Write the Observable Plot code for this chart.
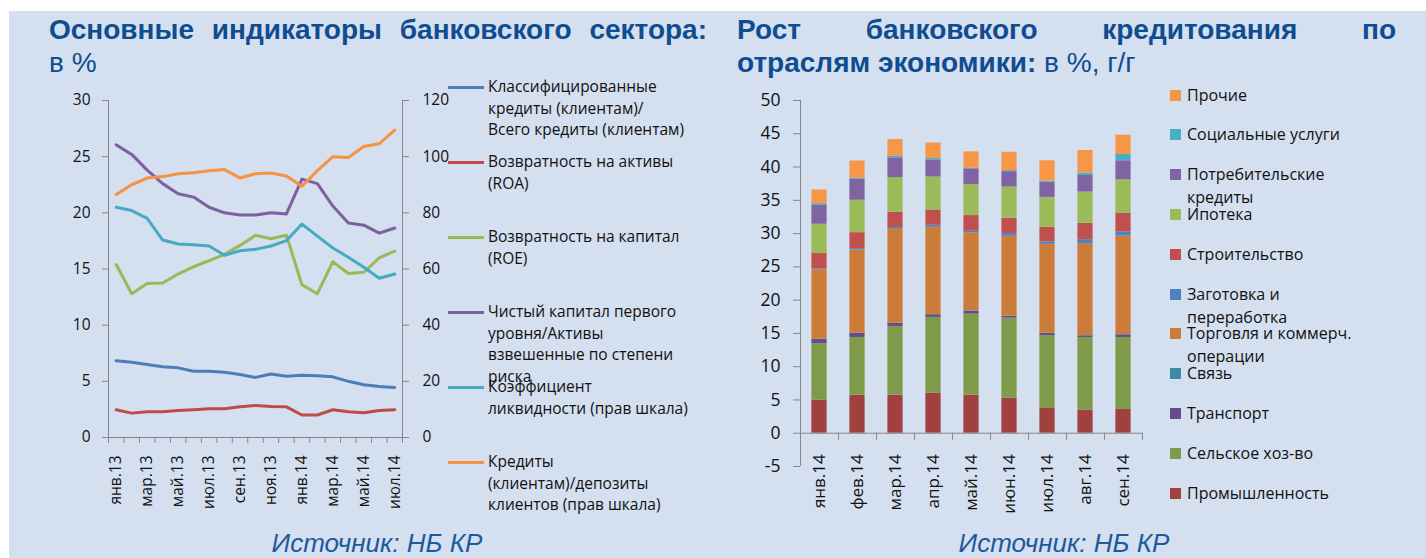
<!DOCTYPE html>
<html><head><meta charset="utf-8">
<script src="https://cdn.jsdelivr.net/npm/d3@7"></script>
<script src="https://cdn.jsdelivr.net/npm/@observablehq/plot@0.6"></script>
<style>
html,body{margin:0;padding:0;background:#fff;}
#page{position:relative;width:1426px;height:558px;overflow:hidden;background:#fff;}
#panel{position:absolute;left:9px;top:11px;width:1417px;height:547px;background:#D4DFEF;}
.abs{position:absolute;}
.title{font-family:"Liberation Sans",Arial,sans-serif;font-size:28px;line-height:33px;color:#0E4D8F;white-space:nowrap;}
.just{text-align:justify;text-align-last:justify;white-space:normal;}
.cap{font-family:"Liberation Sans",Arial,sans-serif;font-style:italic;font-size:26px;line-height:25px;color:#1C5A9C;width:400px;text-align:center;}
.lg{font-family:"Open Sans",sans-serif;color:#111;white-space:pre-line;}
.chart{position:absolute;top:0;}
</style></head>
<body><div id="page"><div id="panel"></div></div>
<script>
// ---------- Left chart data ----------
const months13 = ["янв.13","фев.13","мар.13","апр.13","май.13","июн.13","июл.13","авг.13","сен.13","окт.13","ноя.13","дек.13","янв.14","фев.14","мар.14","апр.14","май.14","июн.14","июл.14"];
const classified = [6.83,6.7,6.5,6.3,6.2,5.9,5.9,5.8,5.6,5.35,5.65,5.45,5.55,5.5,5.4,5.0,4.7,4.55,4.45];
const roa = [2.47,2.17,2.3,2.3,2.4,2.47,2.55,2.55,2.73,2.85,2.76,2.73,2.0,2.0,2.47,2.3,2.2,2.4,2.47];
const roe = [15.4,12.8,13.7,13.75,14.55,15.2,15.75,16.3,17.1,18.0,17.7,18.0,13.6,12.8,15.65,14.6,14.7,16.0,16.6];
const tier1 = [26.05,25.2,23.8,22.6,21.7,21.4,20.5,20.0,19.8,19.8,20.0,19.9,23.0,22.6,20.6,19.1,18.9,18.2,18.65];
const liquidity = [82,80.8,78,70.3,68.9,68.6,68.2,64.9,66.5,67,68.2,70.1,76,71.7,67.5,64.2,60.6,56.7,58.2];      // right axis
const loansDeposits = [86.5,90,92.4,92.9,93.9,94.3,95,95.4,92.4,93.9,94.2,93.1,89.5,95,100,99.7,103.6,104.6,109.5]; // right axis
const leftSeriesNames = [
  "Классифицированные\nкредиты (клиентам)/\nВсего кредиты (клиентам)",
  "Возвратность на активы\n(ROA)",
  "Возвратность на капитал\n(ROE)",
  "Чистый капитал первого\nуровня/Активы\nвзвешенные по степени\nриска",
  "Коэффициент\nликвидности (прав шкала)",
  "Кредиты\n(клиентам)/депозиты\nклиентов (прав шкала)"
];
const leftSeriesValues = [classified, roa, roe, tier1, liquidity, loansDeposits];
const leftSeriesRightAxis = [false, false, false, false, true, true];
const leftColors = ["#4A7EBB","#BE4B48","#98B954","#7D60A0","#46AAC5","#F69240"];
const leftTicks = [0,5,10,15,20,25,30];
const rightAxisFactor = 4; // 0..30 left  <->  0..120 right

// ---------- Right chart data ----------
const months14 = ["янв.14","фев.14","мар.14","апр.14","май.14","июн.14","июл.14","авг.14","сен.14"];
const sectorNames = ["Промышленность","Сельское хоз-во","Транспорт","Связь","Торговля и коммерч.\nоперации","Заготовка и\nпереработка","Строительство","Ипотека","Потребительские\nкредиты","Социальные услуги","Прочие"];
const industry      = [4.96,5.72,5.72,6.02,5.72,5.27,3.71,3.46,3.56];
const agriculture   = [8.48,8.67,10.33,11.38,12.18,12.03,10.98,10.93,10.83];
const transport     = [0.65,0.6,0.45,0.4,0.45,0.25,0.3,0.25,0.4];
const communication = [0.06,0.05,0.05,0.05,0.05,0.05,0.05,0.05,0.05];
const trade         = [10.42,12.5,14.1,13.1,11.7,12.0,13.35,13.8,14.8];
const procurement   = [0.13,0.2,0.26,0.3,0.26,0.4,0.35,0.6,0.6];
const construction  = [2.3,2.4,2.3,2.3,2.35,2.3,2.2,2.45,2.85];
const mortgage      = [4.4,4.87,5.2,4.95,4.65,4.7,4.5,4.7,5.0];
const consumer      = [2.85,3.15,2.97,2.57,2.37,2.3,2.3,2.5,2.85];
const social        = [0.25,0.15,0.25,0.23,0.1,0.17,0.15,0.35,0.95];
const other         = [2.06,2.6,2.5,2.3,2.45,2.75,3.05,3.4,2.9];
const sectorValues = [industry, agriculture, transport, communication, trade, procurement, construction, mortgage, consumer, social, other];
const sectorColors = ["#A0403F","#7F9A48","#664D8A","#3C8DA3","#CD7B38","#4F81BD","#C0504D","#9BBB59","#8064A2","#4BACC6","#F79646"];
const barTicks = [-5,0,5,10,15,20,25,30,35,40,45,50];

const page = document.getElementById("page");
const AXIS = "#868686";

// ---------- Left chart ----------
const n1 = months13.length;
const lineData = [];
leftSeriesValues.forEach((vals, s) => vals.forEach((v, i) => lineData.push({i, s, y: leftSeriesRightAxis[s] ? v / rightAxisFactor : v})));
const bounds1 = d3.range(n1 + 1).map(k => k - 0.5);
const labelIdx1 = d3.range(0, n1, 2);

const left = Plot.plot({
  width: 720, height: 558,
  marginLeft: 108, marginRight: 318, marginTop: 100, marginBottom: 121,
  style: {background: "transparent", fontFamily: "Open Sans", color: "#000", overflow: "visible"},
  x: {type: "linear", domain: [-0.5, n1 - 0.5], axis: null},
  y: {domain: [0, 30]},
  marks: [
    Plot.axisY({ticks: leftTicks, tickFormat: d => String(d), tickSize: 6, tickPadding: 12, stroke: AXIS, fill: "#111", fontSize: 15.5, label: null}),
    Plot.axisY({anchor: "right", ticks: leftTicks, tickFormat: d => String(d * rightAxisFactor), tickSize: 6, tickPadding: 14, stroke: AXIS, fill: "#111", fontSize: 15.5, label: null}),
    Plot.ruleX([bounds1[0], bounds1[n1]], {stroke: AXIS}),
    Plot.ruleY([0], {stroke: AXIS}),
    Plot.ruleX(bounds1, {x: d => d, y1: () => 0, y2: () => 0, insetBottom: -6, stroke: AXIS}),
    Plot.text(labelIdx1, {x: d => d, y: () => 0, text: d => months13[d], rotate: -90, textAnchor: "end", dy: 18, fontSize: 15.5, fill: "#111"}),
    ...leftSeriesValues.map((_, s) => Plot.line(lineData.filter(d => d.s === s), {x: "i", y: "y", stroke: leftColors[s], strokeWidth: 3, strokeLinejoin: "round", strokeLinecap: "round"}))
  ]
});
left.classList.add("chart"); left.style.left = "0px";
page.appendChild(left);

// ---------- Right chart ----------
const n2 = months14.length;
const rects = [];
for (let i = 0; i < n2; i++) {
  let acc = 0;
  sectorValues.forEach((vals, s) => { const y1 = acc; acc += vals[i]; rects.push({i, s, y1, y2: acc}); });
}
const bounds2 = d3.range(n2 + 1).map(k => k - 0.5);
const halfBar = 0.2;
const right = Plot.plot({
  width: 706, height: 558,
  marginLeft: 80, marginRight: 284, marginTop: 100, marginBottom: 92,
  style: {background: "transparent", fontFamily: "Open Sans", color: "#000", overflow: "visible"},
  x: {type: "linear", domain: [-0.5, n2 - 0.5], axis: null},
  y: {domain: [-5, 50]},
  marks: [
    Plot.axisY({ticks: barTicks, tickFormat: d => String(d), tickSize: 7, tickPadding: 13, stroke: AXIS, fill: "#111", fontSize: 17.5, label: null}),
    Plot.rect(rects, {x1: d => d.i - halfBar, x2: d => d.i + halfBar, y1: "y1", y2: "y2", fill: d => sectorColors[d.s]}),
    Plot.ruleX([bounds2[0]], {stroke: AXIS}),
    Plot.ruleY([0], {stroke: AXIS}),
    Plot.ruleX(bounds2, {x: d => d, y1: () => 0, y2: () => 0, insetBottom: -7, stroke: AXIS}),
    Plot.text(d3.range(n2), {x: d => d, y: () => 0, text: d => months14[d], rotate: -90, textAnchor: "end", dy: 21, fontSize: 17, fill: "#111"})
  ]
});
right.classList.add("chart"); right.style.left = "720px";
page.appendChild(right);

// ---------- Titles ----------
function addDiv(cls, style, html) {
  const d = document.createElement("div");
  d.className = cls; d.setAttribute("style", style); d.innerHTML = html;
  page.appendChild(d); return d;
}
addDiv("title abs just", "left:49px;top:13px;width:658px;", "<b>Основные индикаторы банковского сектора</b><b>:</b>");
addDiv("title abs", "left:49px;top:46px;", "в %");
addDiv("title abs just", "left:737px;top:13px;width:659px;", "<b>Рост банковского кредитования по</b>");
addDiv("title abs", "left:737px;top:46px;", "<b>отраслям экономики:</b> в %, г/г");
addDiv("cap abs", "left:177px;top:531px;", "Источник: НБ КР");
addDiv("cap abs", "left:864px;top:531px;", "Источник: НБ КР");

// ---------- Left legend ----------
leftSeriesNames.forEach((name, s) => {
  const top = 76 + 75 * s;
  addDiv("abs", `left:448px;top:${top + 9.5}px;width:36px;height:3px;background:${leftColors[s]};`, "");
  const t = addDiv("lg abs", `left:488px;top:${top}px;font-size:15.5px;line-height:21.5px;`, "");
  t.textContent = name;
});

// ---------- Right legend (top = last stacked series) ----------
sectorNames.slice().reverse().forEach((name, k) => {
  const s = sectorNames.length - 1 - k;
  const top = 83.5 + 39.8 * k;
  addDiv("abs", `left:1170px;top:${top + 6}px;width:11px;height:11px;background:${sectorColors[s]};`, "");
  const t = addDiv("lg abs", `left:1187px;top:${top}px;font-size:16px;line-height:23px;`, "");
  t.textContent = name;
});
</script>
</body></html>
